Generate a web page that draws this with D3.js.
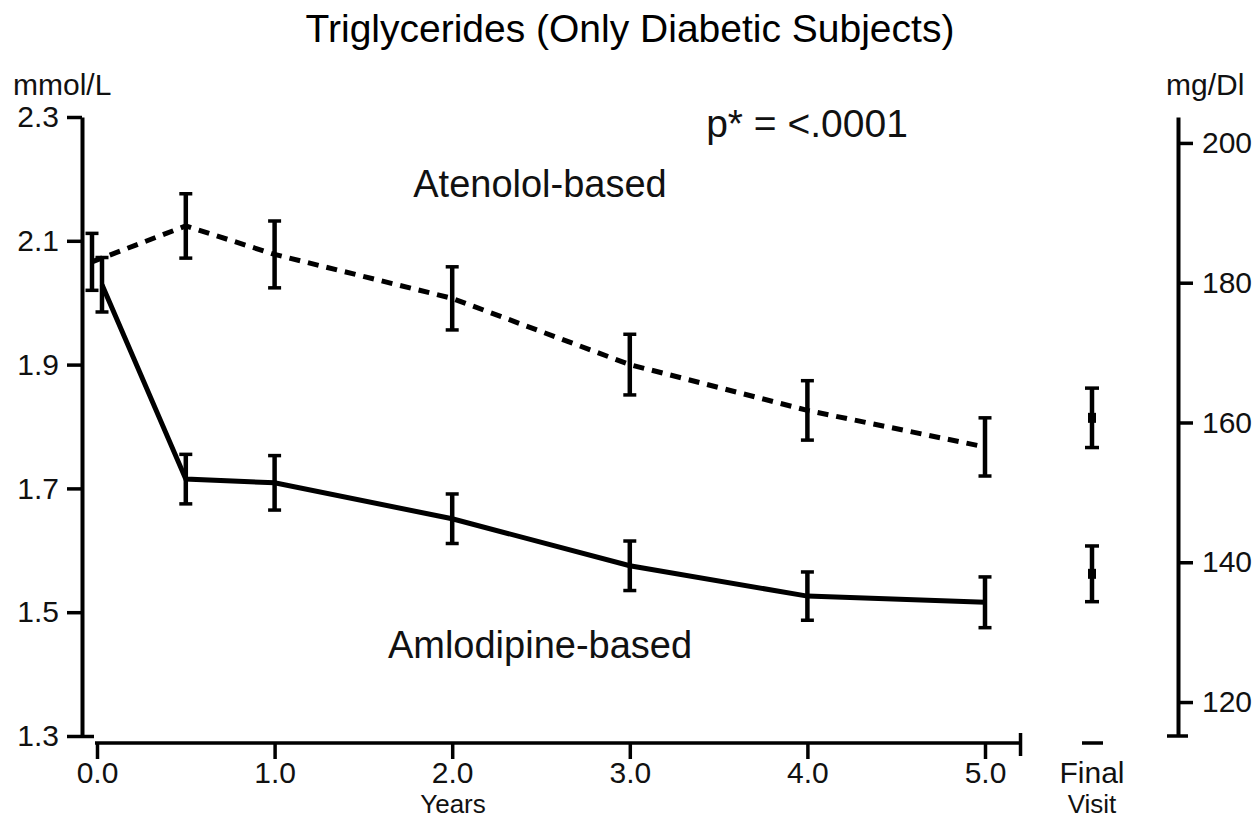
<!DOCTYPE html>
<html>
<head>
<meta charset="utf-8">
<script src="https://cdn.jsdelivr.net/npm/d3@7"></script>
<style>
  html, body { margin: 0; padding: 0; background: #fff; }
  svg { display: block; font-family: "Liberation Sans", Arial, sans-serif; }
</style>
</head>
<body>
<svg id="chart" width="1259" height="819"></svg>
<script>
// ---- Data ----
const years = [0, 0.5, 1, 2, 3, 4, 5];
const atenololMean = [2.066, 2.124, 2.078, 2.007, 1.900, 1.826, 1.767];
const atenololErr  = [0.046, 0.052, 0.054, 0.051, 0.049, 0.048, 0.047];
const amlodipineMean = [2.029, 1.715, 1.709, 1.651, 1.575, 1.526, 1.516];
const amlodipineErr  = [0.044, 0.040, 0.044, 0.040, 0.040, 0.039, 0.041];
const finalLabels = ["Atenolol-based", "Amlodipine-based"];
const finalMean = [1.814, 1.562];
const finalErr  = [0.048, 0.045];
const yTicks  = [1.3, 1.5, 1.7, 1.9, 2.1, 2.3];
const mgTicks = [120, 140, 160, 180, 200];
const xTicks  = [0, 1, 2, 3, 4, 5];
const mgPerMmol = 88.57;

// ---- Layout ----
const svg = d3.select("#chart");
const x = d3.scaleLinear().domain([0, 5]).range([97, 985]);
const y = d3.scaleLinear().domain([1.3, 2.3]).range([736, 117]);
const yMg = d3.scaleLinear().domain([1.3 * mgPerMmol, 2.3 * mgPerMmol]).range([736, 117]);
const xFinal = 1092;
const axisX = 82, axisRightX = 1178, axisBottomY = 743;
const tickFont = "30px";
const ink = "#000";

// Title and labels
svg.append("text").attr("x", 630).attr("y", 42).attr("text-anchor", "middle")
  .attr("font-size", "39px").attr("fill", ink).text("Triglycerides (Only Diabetic Subjects)");
svg.append("text").attr("x", 13).attr("y", 95).attr("font-size", tickFont).attr("fill", "#111").text("mmol/L");
svg.append("text").attr("x", 1166).attr("y", 95).attr("font-size", tickFont).attr("fill", "#111").text("mg/Dl");
svg.append("text").attr("x", 807).attr("y", 137).attr("text-anchor", "middle")
  .attr("font-size", "39px").attr("fill", "#111").text("p* = <.0001");
svg.append("text").attr("x", 540).attr("y", 197).attr("text-anchor", "middle")
  .attr("font-size", "38px").attr("fill", "#111").text(finalLabels[0]);
svg.append("text").attr("x", 540).attr("y", 658).attr("text-anchor", "middle")
  .attr("font-size", "38px").attr("fill", "#111").text(finalLabels[1]);

// Left axis
const gL = svg.append("g").attr("transform", `translate(${axisX},0)`)
  .call(d3.axisLeft(y).tickValues(yTicks).tickSize(15).tickSizeOuter(0).tickPadding(8).tickFormat(d3.format(".1f")));
gL.select(".domain").attr("stroke", ink).attr("stroke-width", 4);
gL.selectAll(".tick line").attr("stroke", ink).attr("stroke-width", 3.5);
gL.selectAll(".tick text").attr("font-size", tickFont).attr("fill", "#111").attr("font-family", "Liberation Sans, Arial, sans-serif");
gL.selectAll(".tick").filter(d => d === 1.3).select("line").attr("x2", -15).attr("x1", 12);

// Right axis
const gR = svg.append("g").attr("transform", `translate(${axisRightX},0)`)
  .call(d3.axisRight(yMg).tickValues(mgTicks).tickSize(15).tickSizeOuter(0).tickPadding(9));
gR.select(".domain").attr("stroke", ink).attr("stroke-width", 4);
gR.selectAll(".tick line").attr("stroke", ink).attr("stroke-width", 3.5);
gR.selectAll(".tick text").attr("font-size", tickFont).attr("fill", "#111").attr("font-family", "Liberation Sans, Arial, sans-serif");
gR.append("line").attr("x1", -11).attr("x2", 10).attr("y1", yMg.range()[0]).attr("y2", yMg.range()[0])
  .attr("stroke", ink).attr("stroke-width", 3.5);

// Bottom axis
const gB = svg.append("g").attr("transform", `translate(0,${axisBottomY})`)
  .call(d3.axisBottom(x).tickValues(xTicks).tickSize(16).tickSizeOuter(0).tickPadding(3).tickFormat(d3.format(".1f")));
gB.select(".domain").remove();
gB.selectAll(".tick line").attr("stroke", ink).attr("stroke-width", 3.5);
gB.selectAll(".tick text").attr("font-size", tickFont).attr("fill", "#111").attr("font-family", "Liberation Sans, Arial, sans-serif");
const xEnd = x(5.2);
gB.append("line").attr("x1", x(0) - 2).attr("x2", xEnd).attr("y1", 0).attr("y2", 0)
  .attr("stroke", ink).attr("stroke-width", 3.5);
gB.append("line").attr("x1", xEnd).attr("x2", xEnd).attr("y1", -10).attr("y2", 13)
  .attr("stroke", ink).attr("stroke-width", 3.5);
gB.append("line").attr("x1", xFinal - 10).attr("x2", xFinal + 11).attr("y1", 0).attr("y2", 0)
  .attr("stroke", ink).attr("stroke-width", 3.5);

svg.append("text").attr("x", 453).attr("y", 813).attr("text-anchor", "middle")
  .attr("font-size", "26px").attr("fill", "#111").text("Years");
svg.append("text").attr("x", xFinal).attr("y", 783).attr("text-anchor", "middle")
  .attr("font-size", tickFont).attr("fill", "#111").text("Final");
svg.append("text").attr("x", xFinal).attr("y", 813).attr("text-anchor", "middle")
  .attr("font-size", "26px").attr("fill", "#111").text("Visit");

// Series
function seriesData(means, errs) {
  return years.map((yr, i) => ({ year: yr, mean: means[i], err: errs[i] }));
}
const series = [
  { data: seriesData(atenololMean, atenololErr), dash: "11,8", offset: -5 },
  { data: seriesData(amlodipineMean, amlodipineErr), dash: null, offset: 5 }
];
const px = (s, d) => x(d.year) + (d.year === 0 ? s.offset : 0);

series.forEach(s => {
  const line = d3.line().x(d => px(s, d)).y(d => y(d.mean));
  svg.append("path").datum(s.data).attr("d", line).attr("fill", "none")
    .attr("stroke", ink).attr("stroke-width", 5)
    .attr("stroke-dasharray", s.dash);
});

function errorBars(g, pts, capW) {
  g.selectAll(null).data(pts).enter().append("line")
    .attr("x1", d => d.cx).attr("x2", d => d.cx)
    .attr("y1", d => y(d.mean + d.err)).attr("y2", d => y(d.mean - d.err))
    .attr("stroke", ink).attr("stroke-width", 4.5);
  ["+", "-"].forEach(sign => {
    g.selectAll(null).data(pts).enter().append("line")
      .attr("x1", d => d.cx - capW / 2).attr("x2", d => d.cx + capW / 2)
      .attr("y1", d => y(sign === "+" ? d.mean + d.err : d.mean - d.err))
      .attr("y2", d => y(sign === "+" ? d.mean + d.err : d.mean - d.err))
      .attr("stroke", ink).attr("stroke-width", 3.5);
  });
}
const gE = svg.append("g");
series.forEach(s => {
  errorBars(gE, s.data.map(d => ({ cx: px(s, d), mean: d.mean, err: d.err })), 13);
});

// Final visit
const finalPts = finalMean.map((m, i) => ({ cx: xFinal, mean: m, err: finalErr[i] }));
errorBars(gE, finalPts, 14);
gE.selectAll(null).data(finalPts).enter().append("rect")
  .attr("x", d => d.cx - 4).attr("y", d => y(d.mean) - 5).attr("width", 8).attr("height", 10)
  .attr("fill", ink);
</script>
</body>
</html>
